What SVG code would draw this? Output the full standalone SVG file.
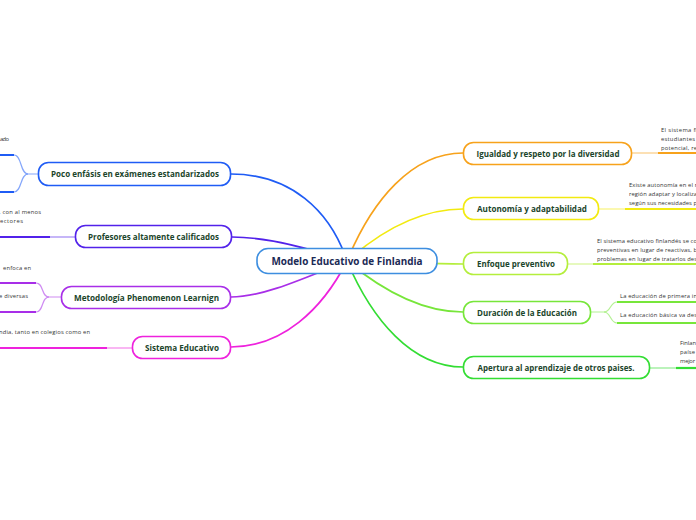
<svg xmlns="http://www.w3.org/2000/svg" width="696" height="520" viewBox="0 0 696 520">
<style>
.bg{fill:#ffffff}
.node rect{fill:#ffffff;stroke-width:1.6}
.lbl{font-family:"Open Sans","Noto Sans",sans-serif;font-weight:bold;font-size:8.5px;fill:#1b452b;text-anchor:middle}
.ctr{font-family:"Open Sans","Noto Sans",sans-serif;font-weight:bold;font-size:10px;fill:#1b2a55;text-anchor:middle}
.sm{font-family:"Open Sans","Noto Sans",sans-serif;font-size:5.8px;fill:#333333}
.smr{font-family:"Open Sans","Noto Sans",sans-serif;font-size:5.8px;fill:#333333;text-anchor:end}
.c{fill:none;stroke-width:1.7;stroke-linecap:round}
.thin{fill:none;stroke-width:1.2;opacity:0.55}
.thick{fill:none;stroke-width:2.2}
</style>
<rect class="bg" x="0" y="0" width="696" height="520"/>
<g id="connectors">
<path class="c" stroke="#1f5cf5" d="M347,261 C330,210 290,174 231,174"/>
<path class="c" stroke="#5222ea" d="M347,261 C300,245 262,237 232,237"/>
<path class="c" stroke="#a82ee8" d="M347,261 C300,280 262,297 231,297"/>
<path class="c" stroke="#ee22dd" d="M347,261 C322,310 282,347 231,347"/>
<path class="c" stroke="#f7a21b" d="M347,261 C372,200 412,153 463,153"/>
<path class="c" stroke="#f2ea10" d="M347,261 C382,230 422,209 463,209"/>
<path class="c" stroke="#b4ee3c" d="M347,261 C400,262 430,264 463,264"/>
<path class="c" stroke="#77e63a" d="M347,261 C382,290 422,312 463,312"/>
<path class="c" stroke="#33dd33" d="M347,261 C372,320 412,367 463,367"/>
<path class="thin" stroke="#1f5cf5" d="M38,174 L28,174 C20,174 22,155 14,155"/>
<path class="thin" stroke="#1f5cf5" d="M28,174 C20,174 22,192 14,192"/>
<path class="thick" stroke="#1f5cf5" d="M14,155 L0,155 M14,192 L0,192"/>
<path class="thin" stroke="#5222ea" d="M75,237 L50,237"/>
<path class="thick" stroke="#5222ea" d="M50,237 L0,237"/>
<path class="thin" stroke="#a82ee8" d="M61,297 L49,297 C41,297 44,283 36,283"/>
<path class="thin" stroke="#a82ee8" d="M49,297 C41,297 44,312 36,312"/>
<path class="thick" stroke="#a82ee8" d="M36,283 L0,283 M36,312 L0,312"/>
<path class="thin" stroke="#ee22dd" d="M132,348 L107,348"/>
<path class="thick" stroke="#ee22dd" d="M107,348 L0,348"/>
<path class="thin" stroke="#f7a21b" d="M632,153 L658,153"/>
<path class="thick" stroke="#f7a21b" d="M658,153 L696,153"/>
<path class="thin" stroke="#f2ea10" d="M599,209 L625,209"/>
<path class="thick" stroke="#f2ea10" d="M625,209 L696,209"/>
<path class="thin" stroke="#b4ee3c" d="M568,264 L593,264"/>
<path class="thick" stroke="#b4ee3c" d="M593,264 L696,264"/>
<path class="thin" stroke="#77e63a" d="M591,312 L604,312 C611,312 610,302 617,302"/>
<path class="thin" stroke="#77e63a" d="M604,312 C611,312 610,323 617,323"/>
<path class="thick" stroke="#77e63a" d="M617,302 L696,302 M617,323 L696,323"/>
<path class="thin" stroke="#33dd33" d="M650,368 L676,368"/>
<path class="thick" stroke="#33dd33" d="M676,368 L696,368"/>
</g>
<g id="center" class="node">
<rect x="257" y="248.5" width="180" height="25" rx="11" stroke="#3d8ee0"/>
<text class="ctr" x="347" y="265" textLength="151" lengthAdjust="spacingAndGlyphs">Modelo Educativo de Finlandia</text>
</g>
<g id="n-poco" class="node">
<rect x="38.5" y="162.5" width="192" height="23" rx="10" stroke="#1f5cf5"/>
<text class="lbl" x="135" y="177" textLength="168" lengthAdjust="spacingAndGlyphs">Poco enfásis en exámenes estandarizados</text>
</g>
<g id="n-profesores" class="node">
<rect x="75.5" y="225.5" width="156" height="22" rx="10" stroke="#5222ea"/>
<text class="lbl" x="153.5" y="240" textLength="131" lengthAdjust="spacingAndGlyphs">Profesores altamente calificados</text>
</g>
<g id="n-metodologia" class="node">
<rect x="61.5" y="286.5" width="169" height="22" rx="10" stroke="#a82ee8"/>
<text class="lbl" x="146.5" y="300.5" textLength="145" lengthAdjust="spacingAndGlyphs">Metodología Phenomenon Learnign</text>
</g>
<g id="n-sistema" class="node">
<rect x="132.5" y="336.5" width="98" height="22" rx="10" stroke="#ee22dd"/>
<text class="lbl" x="182" y="351" textLength="74" lengthAdjust="spacingAndGlyphs">Sistema Educativo</text>
</g>
<g id="n-igualdad" class="node">
<rect x="463.5" y="142.5" width="168" height="22" rx="10" stroke="#f7a21b"/>
<text class="lbl" x="548" y="156.5" textLength="143" lengthAdjust="spacingAndGlyphs">Igualdad y respeto por la diversidad</text>
</g>
<g id="n-autonomia" class="node">
<rect x="463.5" y="197.5" width="135" height="22" rx="10" stroke="#f2ea10"/>
<text class="lbl" x="532" y="211.5" textLength="110" lengthAdjust="spacingAndGlyphs">Autonomía y adaptabilidad</text>
</g>
<g id="n-enfoque" class="node">
<rect x="463.5" y="252.5" width="104" height="22" rx="10" stroke="#b4ee3c"/>
<text class="lbl" x="516" y="266.5" textLength="78" lengthAdjust="spacingAndGlyphs">Enfoque preventivo</text>
</g>
<g id="n-duracion" class="node">
<rect x="463.5" y="301.5" width="127" height="22" rx="10" stroke="#77e63a"/>
<text class="lbl" x="527" y="315.5" textLength="100" lengthAdjust="spacingAndGlyphs">Duración de la Educación</text>
</g>
<g id="n-apertura" class="node">
<rect x="463.5" y="356.5" width="186" height="22" rx="10" stroke="#33dd33"/>
<text class="lbl" x="556" y="370.5" textLength="157" lengthAdjust="spacingAndGlyphs">Apertura al aprendizaje de otros paises.</text>
</g>
<g id="texts">
<text class="smr" x="9" y="141" textLength="9" lengthAdjust="spacing">ado</text>
<text class="smr" x="41" y="214" textLength="42" lengthAdjust="spacing">, con al menos</text>
<text class="smr" x="23" y="223" textLength="23" lengthAdjust="spacing">ectores</text>
<text class="smr" x="31" y="270" textLength="28" lengthAdjust="spacing">enfoca en</text>
<text class="smr" x="28" y="298" textLength="29" lengthAdjust="spacing">e diversas</text>
<text class="smr" x="90" y="334" textLength="91" lengthAdjust="spacing">ndia, tanto en colegios como en</text>
<text class="sm" x="661" y="132" textLength="36" lengthAdjust="spacing">El sistema fi</text>
<text class="sm" x="661" y="141" textLength="34" lengthAdjust="spacing">estudiantes</text>
<text class="sm" x="661" y="150" textLength="36" lengthAdjust="spacing">potencial, re</text>
<text class="sm" x="629" y="187" textLength="68" lengthAdjust="spacing">Existe autonomía en el r</text>
<text class="sm" x="629" y="196" textLength="68" lengthAdjust="spacing">región adaptar y localiza</text>
<text class="sm" x="629" y="205" textLength="68" lengthAdjust="spacing">según sus necesidades p</text>
<text class="sm" x="597" y="243" textLength="100" lengthAdjust="spacing">El sistema educativo finlandés se co</text>
<text class="sm" x="597" y="252" textLength="100" lengthAdjust="spacing">preventivas en lugar de reactivas, b</text>
<text class="sm" x="597" y="261" textLength="100" lengthAdjust="spacing">problemas en lugar de tratarlos des</text>
<text class="sm" x="620" y="298" textLength="77" lengthAdjust="spacing">La educación de primera in</text>
<text class="sm" x="620" y="317" textLength="77" lengthAdjust="spacing">La educación básica va des</text>
<text class="sm" x="680" y="345" textLength="16" lengthAdjust="spacing">Finlan</text>
<text class="sm" x="680" y="354" textLength="15" lengthAdjust="spacing">paíse</text>
<text class="sm" x="680" y="363" textLength="15" lengthAdjust="spacing">mejor</text>
</g>
</svg>
